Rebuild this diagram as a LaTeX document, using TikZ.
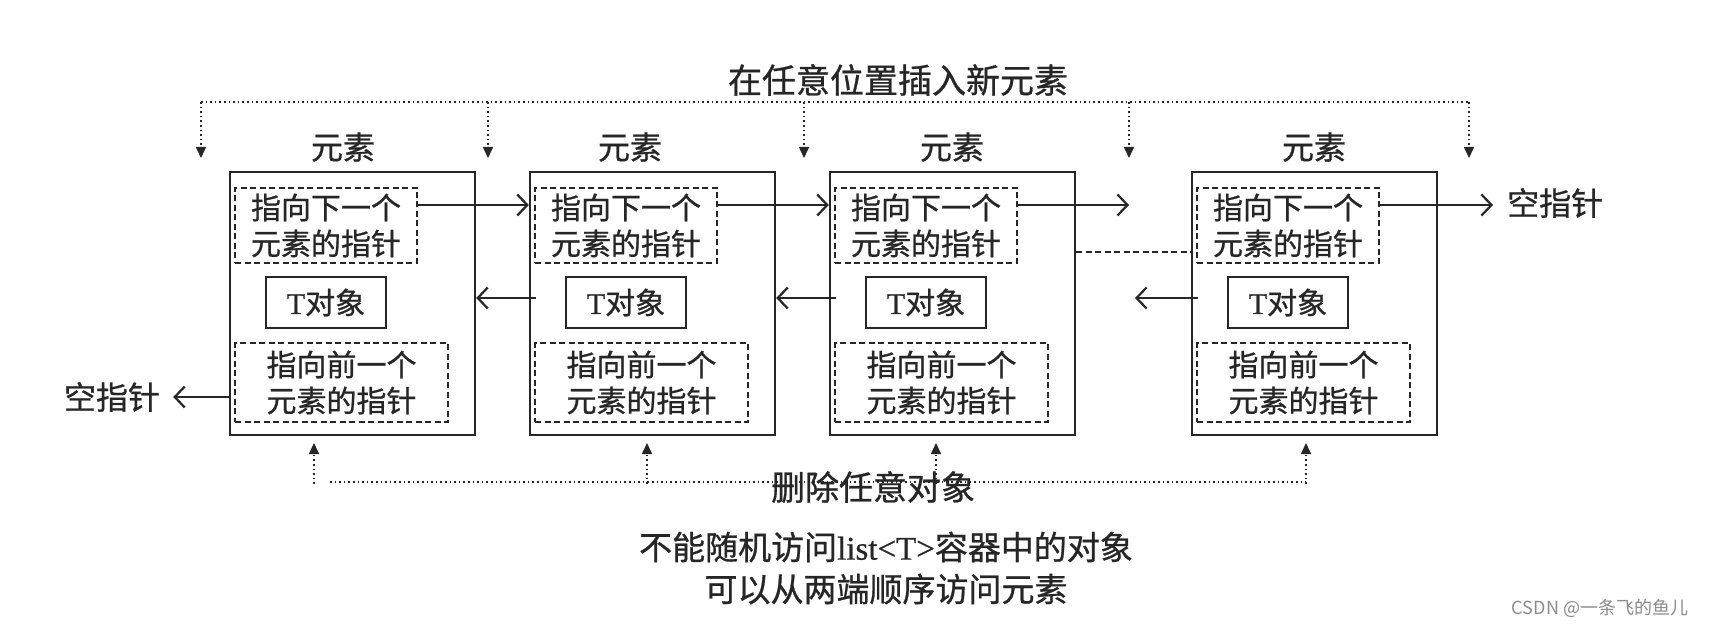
\documentclass[tikz,border=0pt]{standalone}
\usepackage{fontspec}
\setmainfont[FakeBold=0.6]{Liberation Serif}
\newfontfamily\cjk[FakeBold=0.8]{Noto Sans CJK SC}
\newfontfamily\wmcjk{Noto Sans CJK SC}
\usetikzlibrary{arrows.meta,calc}
\definecolor{ink}{HTML}{262626}
\begin{document}
\begin{tikzpicture}[x=1pt,y=-1pt,
  outer/.style={draw=ink, line width=2.4pt, minimum width=245pt, minimum height=263pt, inner sep=0pt},
  nextbox/.style={draw=ink, line width=2.4pt, dash pattern=on 6pt off 3.5pt, minimum width=182pt, minimum height=75pt, inner sep=0pt, align=center, text=ink, font=\cjk\fontsize{30}{36}\selectfont},
  prevbox/.style={nextbox, minimum width=213pt, minimum height=79pt},
  tbox/.style={draw=ink, line width=2.4pt, minimum width=120pt, minimum height=51pt, inner sep=0pt, text=ink, font=\fontsize{30}{36}\selectfont},
  lbl/.style={inner sep=0pt, text=ink, font=\cjk\fontsize{32}{38}\selectfont},
  ptr/.style={draw=ink, line width=2.2pt, -{Straight Barb[length=10pt,width=21pt]}},
  dotl/.style={draw=ink, line width=1.6pt, dash pattern=on 1.6pt off 3pt},
  dotarr/.style={dotl, -{Triangle[length=11pt,width=10pt]}},
  dashl/.style={draw=ink, line width=2.4pt, dash pattern=on 6pt off 3.5pt}
]
\fill[white] (0,0) rectangle (1719,628);
\useasboundingbox (0,0) rectangle (1719,628);

% element boxes
\foreach \L/\lx [count=\i] in {230/343,530/630,830/952,1192/1314} {
  \node[outer] (b\i) at (\L+122.5,303.5) {};
  \node[nextbox] (n\i) at (\L+96,225.5) {指向下一个\\元素的指针};
  \node[tbox] (t\i) at (\L+96,302.5) {T{\cjk 对象}};
  \node[prevbox] (p\i) at (\L+111.5,382.5) {指向前一个\\元素的指针};
  \node[lbl] (l\i) at (\lx,147) {元素};
}

% levels
\coordinate (fy) at (0,205);
\coordinate (by) at (0,298);
\coordinate (dy) at (0,252);
\coordinate (ly) at (0,397);

% null pointer labels
\node[lbl] (lnull) at (112,397) {空指针};
\node[lbl, anchor=west] (rnull) at (1507,203) {空指针};

% forward pointers
\draw[ptr] (n1.east |- fy) -- (b2.west |- fy);
\draw[ptr] (n2.east |- fy) -- (b3.west |- fy);
\coordinate (e3) at (1129,205);
\draw[ptr] (n3.east |- fy) -- (e3);
\draw[ptr, shorten >=14pt] (n4.east |- fy) -- (rnull.west |- fy);

% backward pointers
\draw[ptr] ($(b2.west |- by)+(7,0)$) -- (b1.east |- by);
\draw[ptr] ($(b3.west |- by)+(7,0)$) -- (b2.east |- by);
\coordinate (e4) at (1135,298);
\draw[ptr] ($(b4.west |- by)+(7,0)$) -- (e4);
\draw[ptr, shorten >=13pt] (b1.west |- ly) -- (lnull.east);

% gap between element 3 and 4
\draw[dashl] (b3.east |- dy) -- (b4.west |- dy);

% insert anywhere
\node[lbl, font=\cjk\fontsize{34}{40}\selectfont] (ins) at (898,80) {在任意位置插入新元素};
\foreach \x [count=\k] in {201,488,804,1129,1469} {
  \coordinate (d\k) at (\x,102);
  \coordinate (dt\k) at (\x,158);
  \draw[dotarr] (d\k) -- (dt\k);
}
\draw[dotl] (d1) -- (d5);

% delete any object
\foreach \x [count=\k] in {314,647,936,1306} {
  \coordinate (u\k) at (\x,484);
  \coordinate (ut\k) at (\x,443);
  \draw[dotarr] (u\k) -- (ut\k);
}
\coordinate (ustart) at (330,482);
\draw[dotl] (ustart) -- (u4 |- ustart);
\node[lbl, font=\cjk\fontsize{34}{40}\selectfont] (del) at (873,487) {删除任意对象};

% notes
\node[lbl, font=\fontsize{33}{40}\selectfont] (note1) at (886,547) {{\cjk 不能随机访问}list<T>{\cjk 容器中的对象}};
\node[lbl, font=\cjk\fontsize{33}{40}\selectfont] (note2) at (886,589) {可以从两端顺序访问元素};

% watermark
\node[inner sep=0pt, text=black!45, font=\wmcjk\fontsize{18}{22}\selectfont] (wm) at (1600,608) {CSDN @一条飞的鱼儿};
\end{tikzpicture}
\end{document}
